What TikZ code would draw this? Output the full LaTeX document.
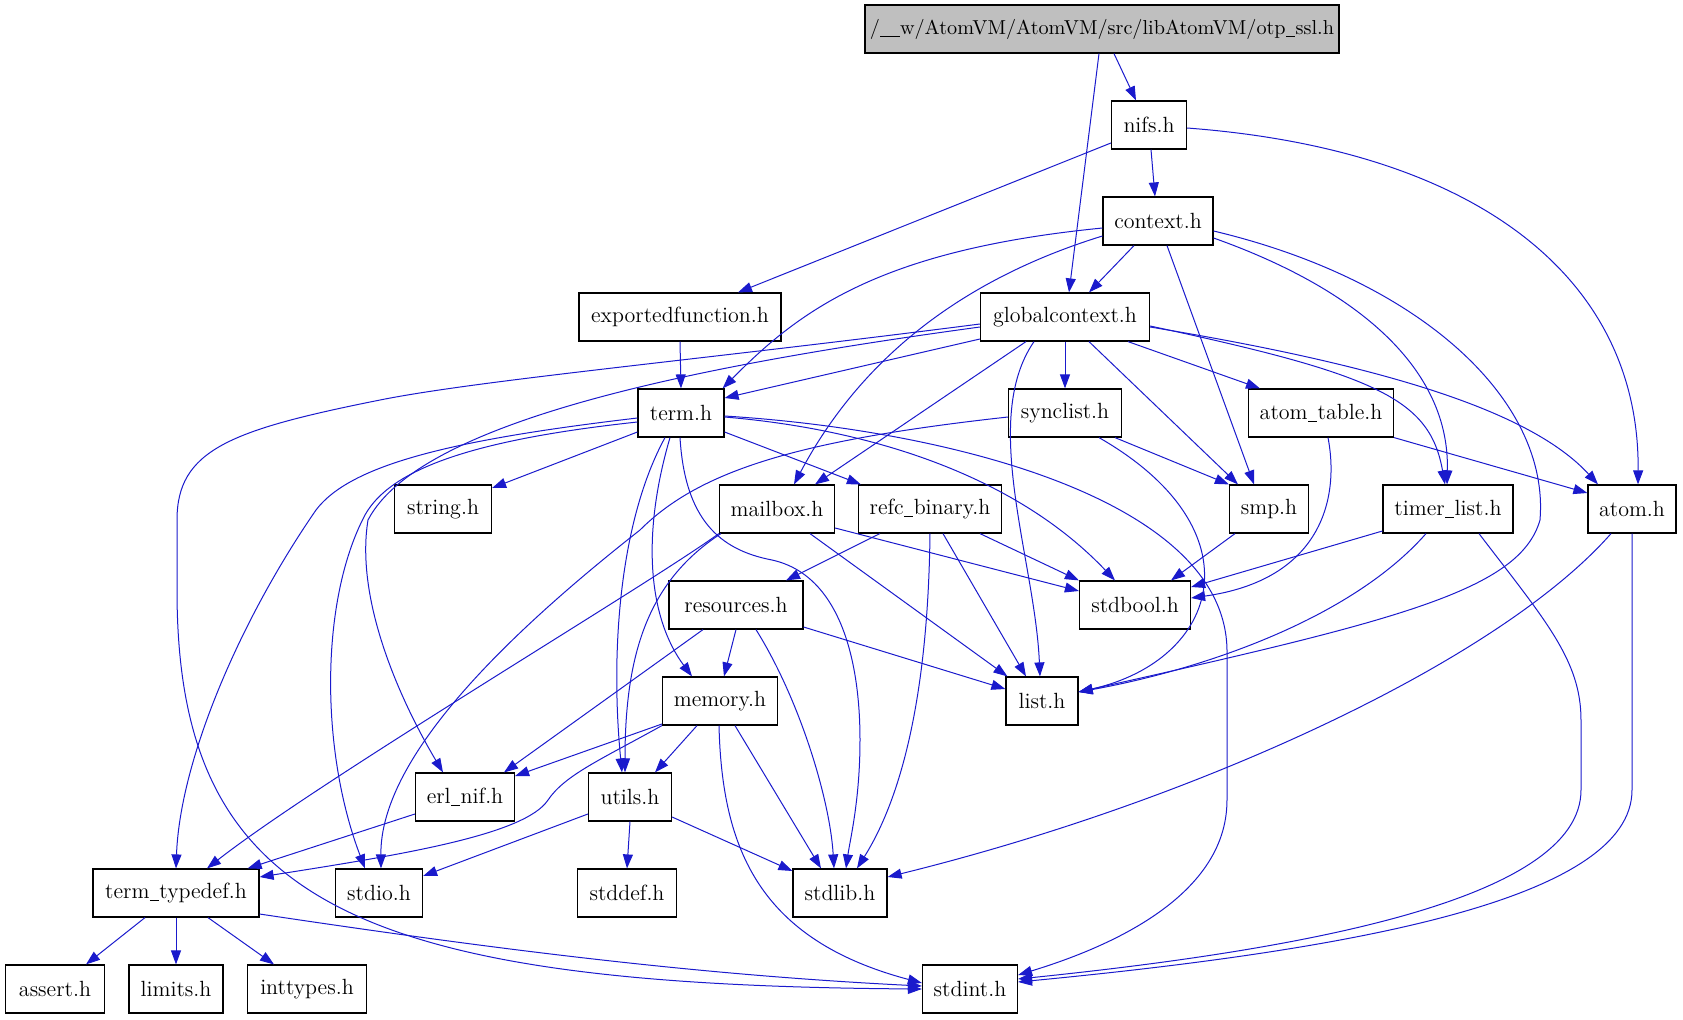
\documentclass[tikz,border=0pt]{standalone}
\usetikzlibrary{arrows.meta,calc}
\definecolor{edgeblue}{RGB}{26,26,204}
\definecolor{rootgray}{RGB}{191,191,191}
\newcommand{\us}{\kern0.2pt\rule[-1.3pt]{4.6pt}{0.45pt}\kern0.2pt}
\begin{document}
\begin{tikzpicture}[x=0.5pt,y=-0.5pt,
  box/.style={draw=black,line width=0.6pt,rectangle,minimum height=24pt,inner sep=0pt,fill=white,font=\fontsize{11}{13}\selectfont},
  dep/.style={draw=edgeblue,line width=0.5pt,-{Triangle[length=7pt,width=5pt]}}]
\useasboundingbox (0,0) rectangle (1683,1019);
% nodes
\node[box,fill=rootgray,minimum width=237pt,font=\fontsize{10.1}{12}\selectfont] (otp) at (1102,29) {/\us\us w/AtomVM/AtomVM/src/libAtomVM/otp\us ssl.h};
\node[box,minimum width=37.5pt] (nifs) at (1149,125) {nifs.h};
\node[box,minimum width=55pt] (context) at (1158,221) {context.h};
\node[box,minimum width=101pt] (exportedfunction) at (680,317) {exportedfunction.h};
\node[box,minimum width=84.5pt] (globalcontext) at (1065,317) {globalcontext.h};
\node[box,minimum width=43pt] (term) at (681,413) {term.h};
\node[box,minimum width=56.5pt] (synclist) at (1065,413) {synclist.h};
\node[box,minimum width=72.5pt] (atomtable) at (1321,413) {atom\us table.h};
\node[box,minimum width=48.5pt] (string) at (443,509) {string.h};
\node[box,minimum width=57.5pt] (mailbox) at (777,509) {mailbox.h};
\node[box,minimum width=71.5pt] (refc) at (930,509) {refc\us binary.h};
\node[box,minimum width=39.5pt] (smp) at (1269,509) {smp.h};
\node[box,minimum width=65pt] (timer) at (1448,509) {timer\us list.h};
\node[box,minimum width=44pt] (atom) at (1632,509) {atom.h};
\node[box,minimum width=67pt] (resources) at (736,605) {resources.h};
\node[box,minimum width=55.5pt] (stdbool) at (1135,605) {stdbool.h};
\node[box,minimum width=57.5pt] (memory) at (720,701) {memory.h};
\node[box,minimum width=36pt] (list) at (1042,701) {list.h};
\node[box,minimum width=49.5pt] (erlnif) at (465,797) {erl\us nif.h};
\node[box,minimum width=41.5pt] (utils) at (630,797) {utils.h};
\node[box,minimum width=83pt] (termtypedef) at (176,893) {term\us typedef.h};
\node[box,minimum width=43.5pt] (stdio) at (379,893) {stdio.h};
\node[box,minimum width=49.5pt] (stddef) at (627,893) {stddef.h};
\node[box,minimum width=47pt] (stdlib) at (840,893) {stdlib.h};
\node[box,minimum width=49.5pt] (assert) at (55,989) {assert.h};
\node[box,minimum width=47pt] (limits) at (176,989) {limits.h};
\node[box,minimum width=59.5pt] (inttypes) at (307,989) {inttypes.h};
\node[box,minimum width=47.5pt] (stdint) at (970,989) {stdint.h};
% edges
\begin{scope}[every path/.append style={dep}]
\draw ($(otp.south)+(12,0)$) -- ($(nifs.north)+(-13,0)$);
\draw ($(otp.south)+(-3,0)$) -- ($(globalcontext.north)+(4,0)$);
\draw ($(nifs.west)+(0,18)$) -- ($(exportedfunction.north)+(58,0)$);
\draw ($(nifs.south)+(2,0)$) -- ($(context.north)+(-3,0)$);
\draw ($(nifs.east)+(0,3)$) .. controls (1480,150) and (1640,280) .. ($(atom.north)+(6,0)$);
\draw ($(context.south)+(-24,0)$) -- ($(globalcontext.north)+(24,0)$);
\draw ($(context.west)+(0,7)$) .. controls (880,250) and (800,310) .. ($(term.north east)+(-2,0)$);
\draw ($(context.west)+(0,15)$) .. controls (960,280) and (860,360) .. ($(mailbox.north)+(17,0)$);
\draw ($(context.south)+(9,0)$) -- ($(smp.north)+(-15,0)$);
\draw ($(context.east)+(0,17)$) .. controls (1360,290) and (1450,370) .. ($(timer.north)+(-1,0)$);
\draw ($(context.east)+(0,10)$) .. controls (1420,280) and (1550,400) .. (1540,520) .. controls (1520,590) and (1400,620) .. ($(list.east)+(0,-9)$);
\draw (exportedfunction.south) -- (term.north);
\draw ($(globalcontext.west)+(0,22)$) -- ($(term.east)+(0,-15)$);
\draw ($(globalcontext.west)+(0,10)$) .. controls (700,365) and (420,420) .. (368,520) .. controls (355,600) and (400,700) .. ($(erlnif.north)+(-22,0)$);
\draw ($(globalcontext.west)+(0,7)$) .. controls (700,360) and (480,380) .. (380,400) .. controls (230,430) and (177,450) .. (177,520) -- (177,590) .. controls (177,900) and (350,985) .. (stdint.west);
\draw ($(globalcontext.south)+(-39,0)$) -- ($(mailbox.north)+(38,0)$);
\draw ($(globalcontext.south)+(-31,0)$) .. controls (980,420) and (1035,560) .. ($(list.north)+(-2,0)$);
\draw (globalcontext.south) -- (synclist.north);
\draw ($(globalcontext.south)+(24,0)$) -- ($(smp.north)+(-31,0)$);
\draw ($(globalcontext.south)+(63,0)$) -- ($(atomtable.north)+(-61,0)$);
\draw ($(globalcontext.east)+(0,9)$) .. controls (1380,375) and (1430,400) .. ($(timer.north)+(-3,0)$);
\draw ($(globalcontext.east)+(0,10)$) .. controls (1380,365) and (1530,410) .. ($(atom.north)+(-34,0)$);
\draw (atomtable.south east) -- ($(atom.west)+(0,-16)$);
\draw ($(atomtable.south)+(7,0)$) .. controls (1340,500) and (1320,580) .. ($(stdbool.east)+(0,-7)$);
\draw ($(synclist.south)+(50,0)$) -- (smp.north west);
\draw ($(synclist.south)+(34,0)$) .. controls (1260,530) and (1220,660) .. ($(list.east)+(0,-9)$);
\draw ($(synclist.west)+(0,4)$) .. controls (800,440) and (700,470) .. (640,530) .. controls (500,640) and (380,760) .. ($(stdio.north)+(2,0)$);
\draw ($(term.west)+(0,19)$) -- ($(string.east)+(0,-21)$);
\draw ($(term.east)+(0,19)$) -- ($(refc.north west)+(3,0)$);
\draw ($(term.east)+(0,4)$) .. controls (880,430) and (1020,480) .. ($(stdbool.north)+(-20,0)$);
\draw ($(term.east)+(0,3)$) .. controls (950,430) and (1225,500) .. (1227,650) -- (1227,800) .. controls (1227,900) and (1100,950) .. ($(stdint.east)+(0,-14)$);
\draw ($(term.west)+(0,5)$) .. controls (450,440) and (350,465) .. (316,510) .. controls (240,620) and (180,760) .. (termtypedef.north);
\draw ($(term.west)+(0,9)$) .. controls (470,440) and (390,470) .. (365,515) .. controls (320,600) and (320,750) .. ($(stdio.north)+(-14,0)$);
\draw ($(term.south)+(-16,0)$) .. controls (620,520) and (610,650) .. ($(utils.north)+(-8,0)$);
\draw ($(term.south)+(-11,0)$) .. controls (640,540) and (650,620) .. ($(memory.north)+(-28,0)$);
\draw ($(term.south)+(-1,0)$) .. controls (685,520) and (720,550) .. (772,560) .. controls (840,575) and (860,660) .. (860,740) .. controls (860,800) and (850,840) .. ($(stdlib.north)+(6,0)$);
\draw (mailbox.south west) .. controls (640,590) and (320,780) .. ($(termtypedef.north)+(31,0)$);
\draw ($(mailbox.south west)+(2,0)$) .. controls (650,580) and (625,650) .. ($(utils.north)+(-5,0)$);
\draw ($(mailbox.south)+(33,0)$) -- ($(list.north west)+(2,0)$);
\draw ($(mailbox.east)+(0,19)$) -- ($(stdbool.west)+(0,-14)$);
\draw ($(refc.south west)+(22,0)$) -- ($(resources.north)+(50,0)$);
\draw ($(refc.south)+(50,0)$) -- (stdbool.north west);
\draw ($(refc.south)+(13,0)$) -- ($(list.north)+(-16,0)$);
\draw (refc.south) .. controls (928,700) and (900,800) .. ($(stdlib.north)+(17,0)$);
\draw ($(smp.south)+(-34,0)$) -- ($(stdbool.north)+(36,0)$);
\draw ($(timer.west)+(0,22)$) -- ($(stdbool.east)+(0,-18)$);
\draw ($(timer.south)+(-22,0)$) .. controls (1350,620) and (1200,670) .. ($(list.east)+(0,-9)$);
\draw ($(timer.south)+(31,0)$) .. controls (1545,620) and (1581,660) .. (1581,720) -- (1581,790) .. controls (1581,900) and (1300,950) .. ($(stdint.east)+(0,-10)$);
\draw ($(atom.south)+(-21,0)$) .. controls (1500,660) and (1200,800) .. ($(stdlib.east)+(0,-16)$);
\draw (atom.south) -- (1632,790) .. controls (1632,900) and (1350,950) .. ($(stdint.east)+(0,-7)$);
\draw (resources.south) -- ($(memory.north)+(4,0)$);
\draw ($(resources.south)+(-33,0)$) -- ($(erlnif.north)+(39,0)$);
\draw ($(resources.east)+(0,22)$) -- ($(list.west)+(0,-12)$);
\draw ($(resources.south)+(20,0)$) .. controls (800,700) and (830,800) .. ($(stdlib.north)+(-6,0)$);
\draw ($(memory.west)+(0,23)$) -- ($(erlnif.east)+(0,-21)$);
\draw ($(memory.south)+(-23,0)$) -- ($(utils.north)+(25,0)$);
\draw (memory.south west) .. controls (600,760) and (565,775) .. (548,800) .. controls (525,835) and (400,855) .. ($(termtypedef.east)+(0,-16)$);
\draw ($(memory.south)+(15,0)$) -- ($(stdlib.north)+(-19,0)$);
\draw ($(memory.south)+(-1,0)$) .. controls (722,850) and (760,940) .. ($(stdint.west)+(0,-6)$);
\draw ($(erlnif.west)+(0,17)$) -- ($(termtypedef.north east)+(-12,0)$);
\draw ($(utils.west)+(0,17)$) -- ($(stdio.east)+(0,-17)$);
\draw (utils.south) -- (stddef.north);
\draw ($(utils.east)+(0,20)$) -- ($(stdlib.west)+(0,-22)$);
\draw ($(termtypedef.south)+(-31,0)$) -- ($(assert.north)+(31,0)$);
\draw (termtypedef.south) -- (limits.north);
\draw ($(termtypedef.south)+(32,0)$) -- ($(inttypes.north)+(-33,0)$);
\draw ($(termtypedef.east)+(0,21)$) .. controls (500,950) and (700,975) .. ($(stdint.west)+(0,-3)$);
\end{scope}
\end{tikzpicture}
\end{document}
